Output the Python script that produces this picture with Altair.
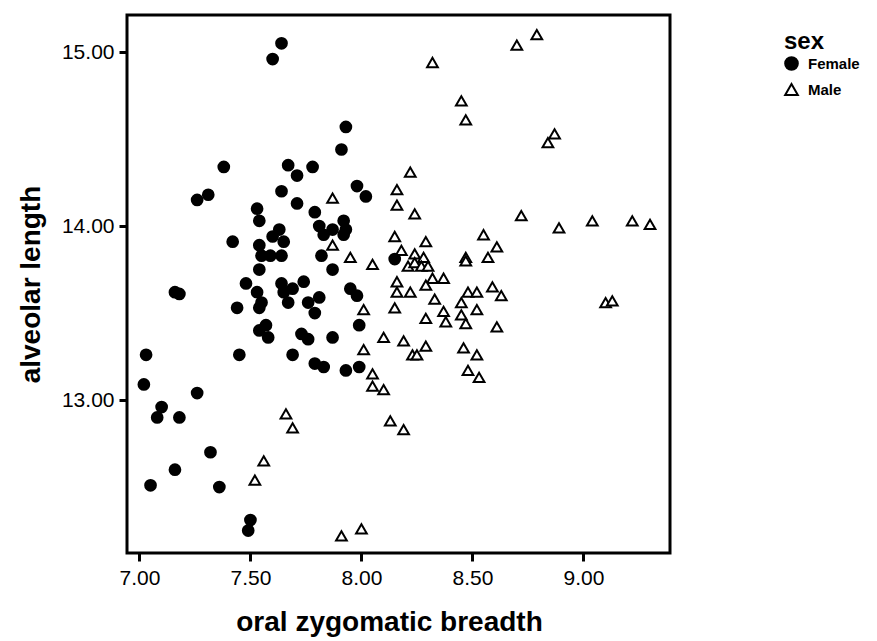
import altair as alt
import pandas as pd

female_x = [7.64, 7.60, 7.38, 7.67, 7.78, 7.71, 7.64, 7.93, 7.91, 7.98, 8.02, 7.31, 7.26, 7.71,
            7.53, 7.79, 7.54, 7.81, 7.63, 7.60, 7.65, 7.42, 7.54, 7.55, 7.59, 7.64, 7.82, 7.54,
            7.48, 7.64, 7.74, 7.16, 7.18, 7.53, 7.65, 7.69, 7.81, 7.55, 7.67, 7.44, 7.54, 7.76,
            7.79, 7.57, 7.54, 7.58, 7.73, 7.76, 7.03, 7.45, 7.69, 7.79, 7.83, 7.93, 7.99, 7.92,
            7.87, 7.92, 7.83, 7.93, 8.15, 7.87, 7.95, 7.98, 7.99, 7.87, 7.02, 7.26, 7.10, 7.08,
            7.18, 7.32, 7.16, 7.05, 7.36, 7.50, 7.49]
female_y = [15.05, 14.96, 14.34, 14.35, 14.34, 14.29, 14.20, 14.57, 14.44, 14.23, 14.17, 14.18, 14.15, 14.13,
            14.10, 14.08, 14.03, 14.00, 13.98, 13.94, 13.91, 13.91, 13.89, 13.83, 13.83, 13.83, 13.83, 13.75,
            13.67, 13.67, 13.68, 13.62, 13.61, 13.62, 13.62, 13.64, 13.59, 13.56, 13.56, 13.53, 13.53, 13.56,
            13.50, 13.43, 13.40, 13.36, 13.38, 13.35, 13.26, 13.26, 13.26, 13.21, 13.19, 13.17, 13.19, 14.03,
            13.98, 13.95, 13.95, 13.98, 13.81, 13.75, 13.64, 13.60, 13.43, 13.36, 13.09, 13.04, 12.96, 12.90,
            12.90, 12.70, 12.60, 12.51, 12.50, 12.31, 12.25]

male_x = [8.70, 8.32, 8.45, 8.47, 8.22, 8.16, 8.79, 8.87, 8.84, 7.87, 8.16, 8.24, 8.72, 8.15,
          8.29, 8.55, 8.61, 7.87, 8.18, 8.24, 8.28, 7.95, 8.05, 8.21, 8.24, 8.27, 8.30, 8.47,
          8.47, 8.57, 8.16, 8.32, 8.37, 8.29, 8.16, 8.22, 8.48, 8.52, 8.59, 8.63, 8.33, 8.45,
          8.01, 8.15, 8.37, 8.45, 8.52, 8.29, 8.38, 8.47, 8.61, 8.10, 8.19, 8.29, 8.01, 8.46,
          8.52, 8.23, 8.25, 8.89, 9.04, 9.22, 9.30, 9.10, 9.13, 7.66, 7.69, 7.56, 7.52, 8.05,
          8.05, 8.10, 8.13, 8.19, 8.48, 8.53, 7.91, 8.00]
male_y = [15.04, 14.94, 14.72, 14.61, 14.31, 14.21, 15.10, 14.53, 14.48, 14.16, 14.12, 14.07, 14.06, 13.94,
          13.91, 13.95, 13.88, 13.89, 13.86, 13.84, 13.82, 13.82, 13.78, 13.77, 13.79, 13.77, 13.77, 13.82,
          13.80, 13.82, 13.68, 13.70, 13.70, 13.66, 13.62, 13.62, 13.62, 13.62, 13.65, 13.60, 13.58, 13.56,
          13.52, 13.53, 13.51, 13.49, 13.52, 13.47, 13.45, 13.44, 13.42, 13.36, 13.34, 13.31, 13.29, 13.30,
          13.26, 13.26, 13.26, 13.99, 14.03, 14.03, 14.01, 13.56, 13.57, 12.92, 12.84, 12.65, 12.54, 13.15,
          13.08, 13.06, 12.88, 12.83, 13.17, 13.13, 12.22, 12.26]

x_ticks = [7.0, 7.5, 8.0, 8.5, 9.0]
y_ticks = [13.0, 14.0, 15.0]
sexes = ["Female", "Male"]

df = pd.DataFrame({
    "ozb": female_x + male_x,
    "al": female_y + male_y,
    "sex": ["Female"] * len(female_x) + ["Male"] * len(male_x),
})

FONT = "Liberation Sans"

chart = alt.Chart(df).mark_point(filled=False, stroke="black", strokeWidth=2, opacity=1, size=115).encode(
    x=alt.X("ozb:Q", title="oral zygomatic breadth",
            scale=alt.Scale(domain=[6.944, 9.39], nice=False, zero=False),
            axis=alt.Axis(values=x_ticks, format=".2f", grid=False, domain=False,
                          tickColor="black", tickWidth=3, tickSize=8,
                          labelFont=FONT, labelFontSize=21, labelColor="black", labelPadding=6,
                          titleFont=FONT, titleFontSize=28, titleFontWeight="bold",
                          titleColor="black", titlePadding=20, titleX=262, titleAlign="center")),
    y=alt.Y("al:Q", title="alveolar length",
            scale=alt.Scale(domain=[12.121, 15.213], nice=False, zero=False),
            axis=alt.Axis(values=y_ticks, format=".2f", grid=False, domain=False,
                          tickColor="black", tickWidth=3, tickSize=8,
                          labelFont=FONT, labelFontSize=21, labelColor="black", labelPadding=5,
                          titleFont=FONT, titleFontSize=28, titleFontWeight="bold",
                          titleColor="black", titlePadding=16)),
    shape=alt.Shape("sex:N", title="sex",
                    scale=alt.Scale(domain=sexes, range=["circle", "triangle-up"]),
                    legend=alt.Legend(orient="none", legendX=657, legendY=15,
                                      titleFont=FONT, titleFontSize=24, titleFontWeight="bold",
                                      titleColor="black", titlePadding=2,
                                      labelFont=FONT, labelFontSize=15, labelFontWeight="bold",
                                      labelColor="black", labelOffset=9,
                                      symbolSize=160, symbolStrokeWidth=2,
                                      rowPadding=6)),
    fill=alt.Fill("sex:N", title="sex",
                  scale=alt.Scale(domain=sexes, range=["black", "white"])),
    order=alt.Order("sex:N"),
).properties(
    width=543, height=538,
    autosize=alt.AutoSizeParams(type="none"),
    padding={"left": 127, "top": 15, "right": 207, "bottom": 88},
    background="white",
).configure_view(
    stroke="black", strokeWidth=3
)

chart.save("out.html", embed_options={"renderer": "svg", "actions": False})
